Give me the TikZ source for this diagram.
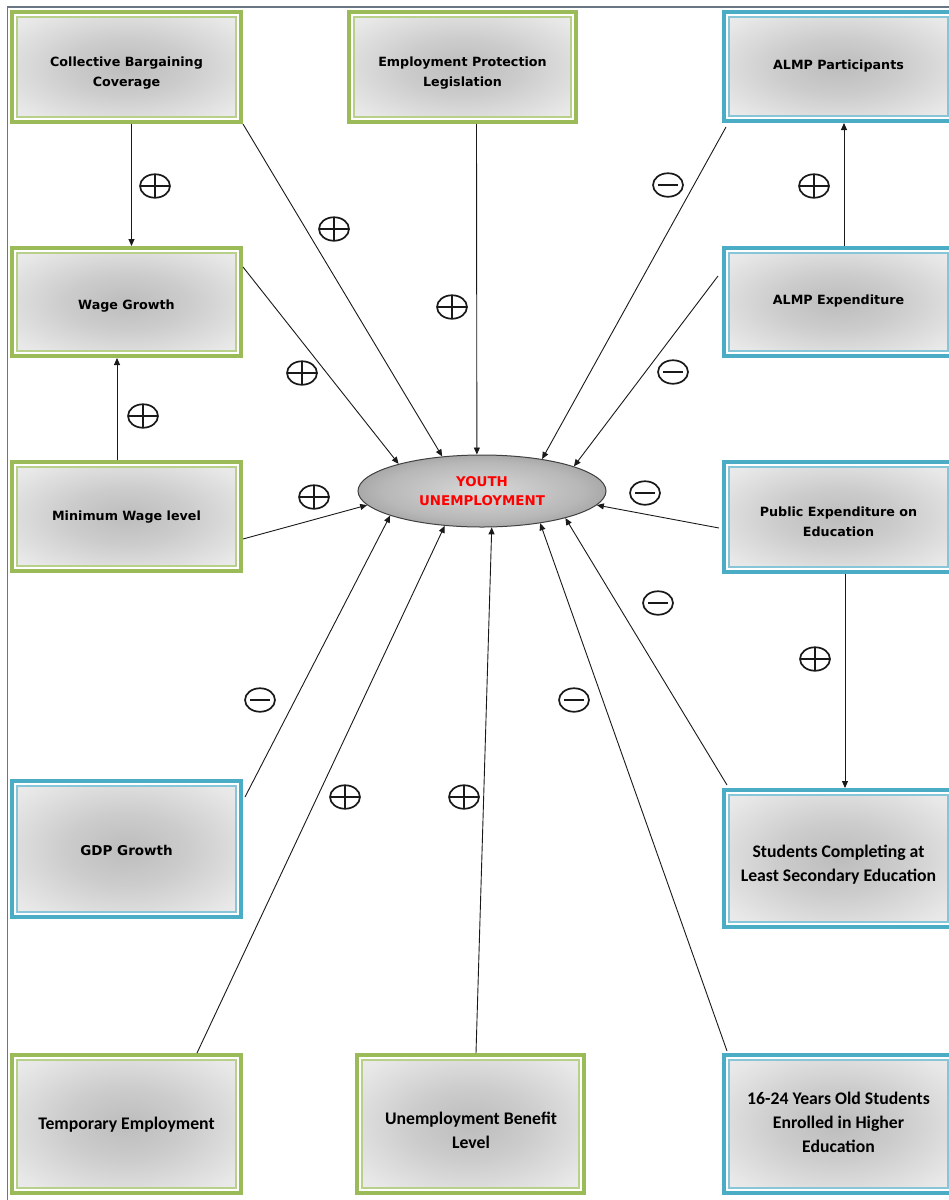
\documentclass[tikz,border=0pt]{standalone}
\usepackage{fontspec}
\usetikzlibrary{shapes.geometric,arrows.meta,calc}
\newfontfamily\vfont{DejaVu Sans}
\newfontfamily\cfont{Carlito}
\definecolor{grnc}{HTML}{9BBB59}
\definecolor{grnl}{HTML}{B9D08A}
\definecolor{bluc}{HTML}{4BACC6}
\definecolor{blul}{HTML}{86C6D8}
\definecolor{framec}{HTML}{6A7585}
\pgfdeclareradialshading{boxshade}{\pgfpoint{0bp}{0bp}}{color(0bp)=(black!26); color(14bp)=(black!20); color(32bp)=(black!9); color(45bp)=(black!5); color(50bp)=(black!5)}
\pgfdeclareradialshading{ellshade}{\pgfpoint{0bp}{0bp}}{color(0bp)=(black!15); color(20bp)=(black!28); color(50bp)=(black!62)}
\tikzset{
  basebox/.style={rectangle, line width=4pt, fill=white, outer sep=2pt, inner sep=0pt, minimum width=229pt},
  gbox/.style={basebox, draw=grnc},
  bbox/.style={basebox, draw=bluc},
  vtext/.style={align=center, inner sep=0pt, font=\vfont\bfseries\fontsize{12.7}{20}\selectfont},
  ctext/.style={align=center, inner sep=0pt, font=\cfont\bfseries\fontsize{17.7}{24}\selectfont},
  conn/.style={-{Triangle[length=7pt,width=6pt]}, line width=0.9pt, draw=black!90},
  sgn/.style={ellipse, draw=black!90, line width=1.7pt, minimum width=30pt, minimum height=23.5pt, inner sep=0pt},
  plussgn/.style={sgn, path picture={\draw[line width=1.7pt, black!90] (path picture bounding box.north) -- (path picture bounding box.south) (path picture bounding box.west) -- (path picture bounding box.east);}},
  minussgn/.style={sgn, path picture={\draw[line width=1.7pt, black!90] ([xshift=5pt]path picture bounding box.west) -- ([xshift=-5pt]path picture bounding box.east);}}
}
\begin{document}
\begin{tikzpicture}[x=1pt,y=-1pt]
\useasboundingbox (0,0) rectangle (949,1200);
\clip (0,0) rectangle (949,1200);
% page frame
\draw[framec, line width=1.5pt] (949,7) -- (7.5,7) -- (7.5,1200);
% boxes
\node[gbox, minimum height=110pt] (cbc) at (126.5,67) {};
\node[gbox, minimum width=227pt, minimum height=110pt] (epl) at (462.5,67) {};
\node[bbox, minimum height=109pt] (almpp) at (838.5,66.5) {};
\node[gbox, minimum height=108pt] (wage) at (126.5,302) {};
\node[bbox, minimum height=108pt] (almpe) at (838.5,302) {};
\node[gbox, minimum height=109pt] (minw) at (126.5,516.5) {};
\node[bbox, minimum height=110pt] (pube) at (838.5,517) {};
\node[bbox, minimum height=136pt] (gdp) at (126.5,849) {};
\node[bbox, minimum height=137pt] (stud) at (838.5,858.5) {};
\node[gbox, minimum height=138pt] (temp) at (126.5,1124) {};
\node[gbox, minimum width=227pt, minimum height=138pt] (ubl) at (470.5,1124) {};
\node[bbox, minimum height=138pt] (hied) at (838.5,1124) {};
\foreach \n/\c in {cbc/grnl,epl/grnl,almpp/blul,wage/grnl,almpe/blul,minw/grnl,pube/blul,gdp/blul,stud/blul,temp/grnl,ubl/grnl,hied/blul}
  \path[shade, shading=boxshade, draw=\c, line width=1.5pt] ([shift={(6.8pt,-6.8pt)}]\n.north west) rectangle ([shift={(-6.8pt,6.8pt)}]\n.south east);
% box texts
\node[vtext] (cbc-t) at (126.5,73) {Collective Bargaining\\Coverage};
\node[vtext] (epl-t) at (462.5,73) {Employment Protection\\Legislation};
\node[vtext] (almpp-t) at (838.5,66) {ALMP Participants};
\node[vtext] (wage-t) at (126.5,306) {Wage Growth};
\node[vtext] (almpe-t) at (838.5,301) {ALMP Expenditure};
\node[vtext] (minw-t) at (126.5,517) {Minimum Wage level};
\node[vtext] (pube-t) at (838.5,522) {Public Expenditure on\\Education};
\node[vtext, font=\vfont\bfseries\fontsize{13.5}{20}\selectfont] (gdp-t) at (126.5,850) {GDP Growth};
\node[ctext] (stud-t) at (838.5,865) {Students Completing at\\Least Secondary Education};
\node[ctext] (temp-t) at (126.5,1125) {Temporary Employment};
\node[ctext] (ubl-t) at (471,1130) {Unemployment Benefit\\Level};
\node[ctext] (hied-t) at (838.5,1122) {16-24 Years Old Students\\Enrolled in Higher\\Education};
% central ellipse
\node[ellipse, draw=black!75, line width=1pt, shade, shading=ellshade, minimum width=248pt, minimum height=72pt, inner sep=0pt, text=red, align=center, font=\vfont\bfseries\fontsize{13.4}{19}\selectfont] (yu) at (482,491) {YOUTH\\UNEMPLOYMENT};
% connectors
\draw[conn] (cbc.south east) -- (yu.139);
\draw[conn] ([xshift=5pt]cbc.south) -- ([xshift=5pt]wage.north);
\draw[conn] ([xshift=14pt]epl.south) -- (yu.98.6);
\draw[conn] ([shift={(4pt,-4pt)}]almpp.south west) -- (yu.28);
\draw[conn] ([xshift=5.5pt]almpe.north) -- ([xshift=5.5pt]almpp.south);
\draw[conn] ([shift={(-4pt,26pt)}]almpe.west) -- (yu.15);
\draw[conn] ([yshift=35pt]wage.east) -- (yu.162);
\draw[conn] ([xshift=-9.5pt]minw.north) -- ([xshift=-9.5pt]wage.south);
\draw[conn] ([yshift=-22.5pt]minw.east) -- (yu.187);
\draw[conn] ([shift={(-3pt,-11pt)}]pube.west) -- (yu.-7);
\draw[conn] ([xshift=6.5pt]pube.south) -- ([xshift=6.5pt]stud.north);
\draw[conn] ([shift={(5pt,3pt)}]stud.north west) -- (yu.-18);
\draw[conn] ([shift={(2pt,52pt)}]gdp.east) -- (yu.-165);
\draw[conn] ([xshift=70.5pt]temp.north) -- (yu.-137.4);
\draw[conn] ([xshift=5.5pt]ubl.north) -- (yu.-75);
\draw[conn] ([shift={(5pt,2pt)}]hied.north west) -- (yu.-29);
% signs
\node[plussgn] (s1) at (155,186) {};
\node[plussgn] (s2) at (334,229) {};
\node[plussgn] (s3) at (452,307) {};
\node[plussgn] (s4) at (302,373) {};
\node[minussgn] (s5) at (668,185) {};
\node[plussgn] (s6) at (814,186) {};
\node[minussgn] (s7) at (673,372) {};
\node[plussgn] (s8) at (143,416) {};
\node[plussgn] (s9) at (314,497) {};
\node[minussgn] (s10) at (645,493) {};
\node[plussgn] (s11) at (815,659) {};
\node[minussgn] (s12) at (658,603) {};
\node[minussgn] (s13) at (260,700) {};
\node[plussgn] (s14) at (345,797) {};
\node[plussgn] (s15) at (464,797) {};
\node[minussgn] (s16) at (574,700) {};
\end{tikzpicture}
\end{document}
